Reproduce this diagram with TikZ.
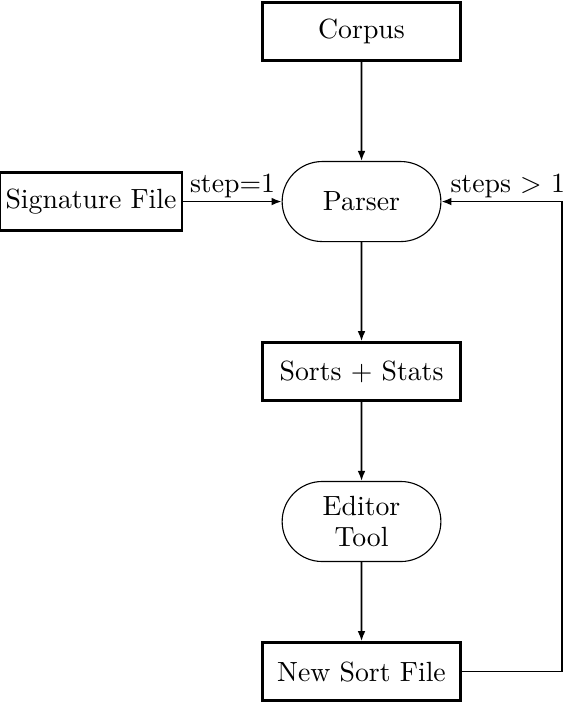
\documentclass[tikz,border=0pt]{standalone}
\usetikzlibrary{shapes.misc,arrows.meta,positioning}

\begin{document}
\begin{tikzpicture}
		% Estilos de las cajas y flechas
		\tikzset{
			filebox/.style={draw, line width=1pt, minimum width=2.506cm, minimum height=0.734cm, inner sep=2pt},
			toolbox/.style={draw, rounded rectangle, minimum width=2.15cm, minimum height=1.013cm, inner sep=2pt, align=center},
			flow/.style={semithick, -{Latex[length=3.6pt,width=2.8pt]}},
			steplabel/.style={above, inner sep=1pt}
		}
		
		% --- Marco de la figura ---
		\useasboundingbox (0,0) rectangle (7.139,-8.911);
		
		% --- Nodos ---
		\node[filebox] (corpus) at (4.576,-0.399) {Corpus};
		\node[toolbox] (parser) at (4.576,-2.551) {Parser};
		\node[filebox, minimum width=2.266cm] (sigfile) at (1.152,-2.551) {Signature File};
		\node[filebox] (sorts) at (4.576,-4.703) {Sorts + Stats};
		\node[toolbox] (editor) at (4.576,-6.601) {Editor\\[-1pt]Tool};
		\node[filebox] (newsort) at (4.576,-8.5) {New Sort File};
		
		% Esquina del lazo de retorno
		\coordinate (turn) at (7.114,-2.551);
		
		% --- Flechas ---
		\draw[flow] (corpus) -- (parser);
		\draw[flow] (sigfile) -- node[steplabel] {step=1} (parser);
		\draw[flow] (parser) -- (sorts);
		\draw[flow] (sorts) -- (editor);
		\draw[flow] (editor) -- (newsort);
		\draw[flow] (newsort.east) -| (turn) -- node[steplabel, pos=0.45] {steps $>$ 1} (parser.east);
		
	\end{tikzpicture}
\end{document}
